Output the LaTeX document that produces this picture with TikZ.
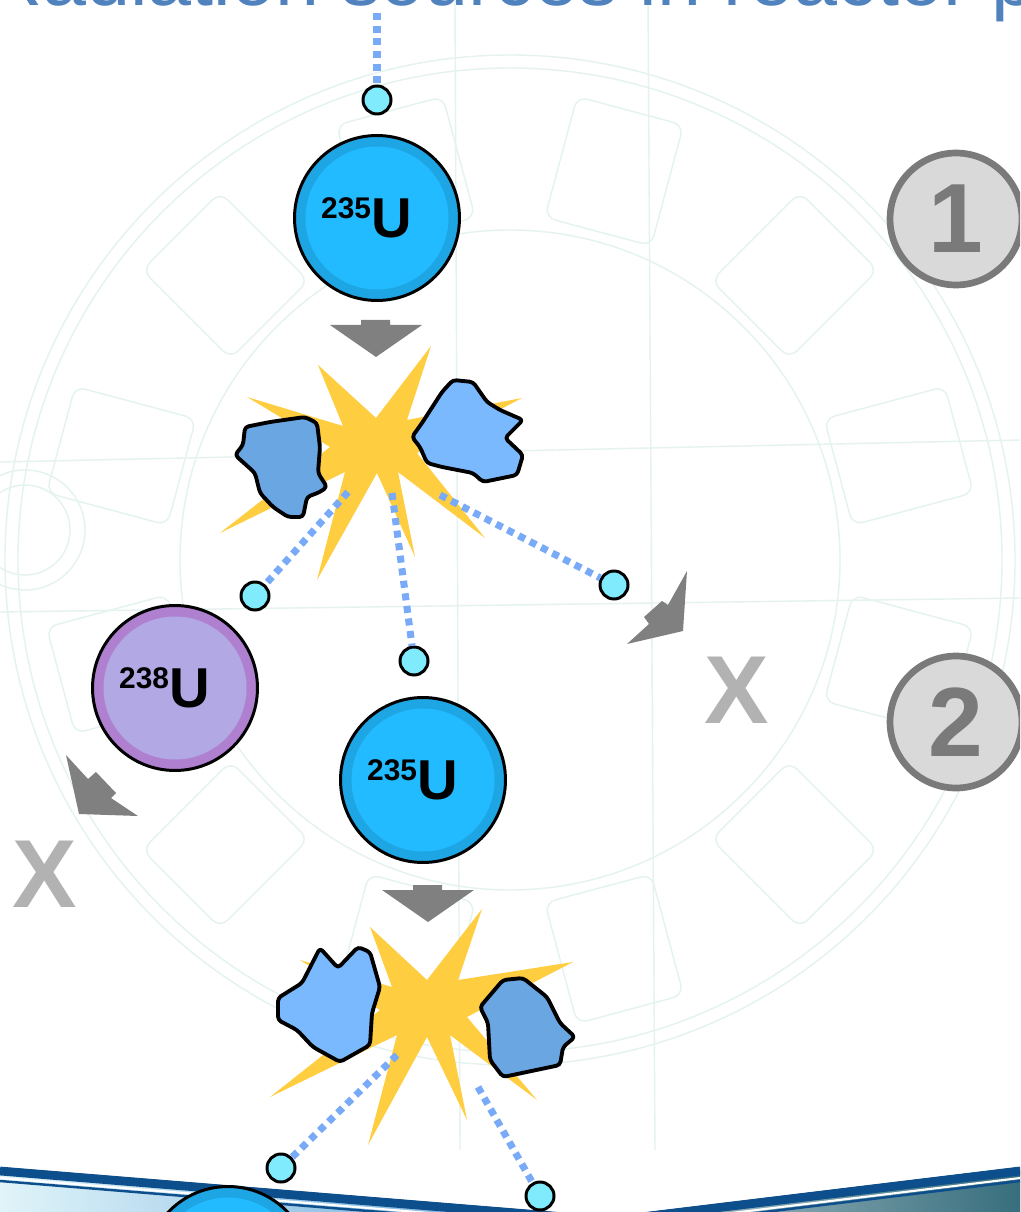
\documentclass[tikz,border=0pt]{standalone}
\usepackage{fontspec}
\setmainfont{Liberation Sans}

\definecolor{ufill}{RGB}{34,187,255}
\definecolor{uring}{RGB}{30,166,228}
\definecolor{pfill}{RGB}{177,168,228}
\definecolor{pring}{RGB}{176,128,208}
\definecolor{ncyan}{RGB}{127,235,253}
\definecolor{ndot}{RGB}{120,170,248}
\definecolor{boom}{RGB}{255,205,64}
\definecolor{chunkdark}{RGB}{106,166,226}
\definecolor{chunklight}{RGB}{122,185,253}
\definecolor{arrowgray}{RGB}{128,128,128}
\definecolor{xgray}{RGB}{178,178,178}
\definecolor{stepgray}{RGB}{217,217,217}
\definecolor{stepedge}{RGB}{122,122,122}
\definecolor{bp}{RGB}{228,242,240}
\definecolor{titleblue}{RGB}{80,130,190}
\definecolor{bannerblue}{RGB}{13,79,140}

% isotope label: mass number raised to the top of the U
\newcommand\iso[1]{\raisebox{11pt}{\fontsize{17}{17}\selectfont #1}\fontsize{32}{32}\selectfont U\kern12pt}

\begin{document}
\begin{tikzpicture}[x=0.02cm, y=-0.02cm,
    atom/.style={circle, draw, line width=1.7pt, minimum size=3.3cm, inner sep=0pt, font=\bfseries},
    u235/.style={atom, fill=uring, path picture={\fill[ufill] (path picture bounding box.center) circle (1.43cm);}},
    u238/.style={atom, fill=pring, path picture={\fill[pfill] (path picture bounding box.center) circle (1.43cm);}},
    neutron/.style={circle, draw, line width=1.7pt, fill=ncyan, minimum size=0.56cm, inner sep=0pt},
    flight/.style={ndot, line width=4pt, dash pattern=on 4pt off 3.2pt},
    blast/.style={fill=boom},
    chunk/.style={draw, line width=2.2pt, line join=round, rounded corners=2pt},
    stepmark/.style={circle, draw=stepedge, line width=3.8pt, fill=stepgray, text=stepedge,
      font=\fontsize{56}{56}\selectfont\bfseries, minimum size=2.64cm, inner sep=0pt},
    miss/.style={text=xgray, font=\fontsize{55}{55}\selectfont\bfseries, inner sep=0pt},
    drop/.pic={\fill[arrowgray] (-15,0) -- (14,0) -- (14,5) -- (46,5) -- (0,37) -- (-46,5) -- (-15,5) -- cycle;}]

  \useasboundingbox (0,0) rectangle (1020,1212);
  \clip (0,0) rectangle (1020,1212);
  \fill[white] (0,0) rectangle (1020,1212);

  % faint drawing in the background
  \begin{scope}[draw=bp, line width=0.8pt]
    \draw (510,560) circle [radius=505];
    \draw (510,560) circle [radius=492];
    \draw (510,560) circle [radius=330];
    \foreach \a in {15,45,...,345}
      \draw[rotate around={\a:(510,560)}, rounded corners=6pt] (850,505) rectangle (975,615);
    \draw (25,530) circle [radius=60];
    \draw (25,530) circle [radius=45];
    \draw (0,462) -- (1020,440);
    \draw (0,612) -- (1020,598);
    \draw (648,0) -- (655,1150);
    \draw (455,0) -- (460,1150);
  \end{scope}

  % title, mostly above the page
  \node[anchor=base west, inner sep=0pt, text=titleblue, font=\fontsize{45}{45}\selectfont]
    (title) at (-15,6) {Radiation sources in reactor physics};

  % banner at the foot
  \fill[left color={rgb,255:red,224;green,244;blue,249}, middle color={rgb,255:red,165;green,210;blue,238},
    right color={rgb,255:red,70;green,145;blue,210}] (0,1167) -- (700,1224) -- (700,1260) -- (0,1260) -- cycle;
  \draw[bannerblue, line width=5pt] (0,1171) -- (700,1228);
  \draw[white, line width=1.2pt] (0,1178) -- (700,1235);
  \draw[bannerblue, line width=1.4pt] (0,1181) -- (700,1238);
  \fill[left color={rgb,255:red,185;green,205;blue,210}, right color={rgb,255:red,55;green,110;blue,125}]
    (600,1218) -- (1020,1167) -- (1020,1260) -- (600,1260) -- cycle;
  \draw[bannerblue, line width=5pt] (600,1222) -- (1020,1171);
  \draw[white, line width=1.2pt] (600,1229) -- (1020,1178);
  \draw[bannerblue, line width=1.4pt] (600,1232) -- (1020,1181);

  % first fission
  \pic at (376,320) {drop};
  \fill[blast] (431,346) -- (407,420) -- (522,398) -- (417,453) -- (485,538) -- (398,472) -- (415,557)
    -- (377,473) -- (317,580) -- (345,472) -- (220,533) -- (330,447) -- (247,397) -- (343,426)
    -- (318,365) -- (376,418) -- cycle;
  \path[chunk, fill=chunkdark] (245,427) -- (270,422) -- (305,417) -- (317,423) -- (320,447) -- (318,473)
    -- (327,487) -- (320,492) -- (307,497) -- (303,517) -- (288,517) -- (273,507) -- (260,493)
    -- (255,473) -- (235,455) -- (243,445) -- cycle;
  \path[chunk, fill=chunklight] (412,437) -- (422,423) -- (442,392) -- (453,380) -- (473,382) -- (487,402)
    -- (500,410) -- (523,420) -- (505,438) -- (523,455) -- (517,475) -- (483,482) -- (473,473)
    -- (442,467) -- (427,463) -- (420,447) -- cycle;

  % second fission
  \pic at (428,885) {drop};
  \fill[blast] (482,909) -- (458,980) -- (573,962) -- (467,1017) -- (537,1100) -- (450,1035) -- (467,1120)
    -- (427,1037) -- (368,1145) -- (397,1035) -- (270,1097) -- (380,1010) -- (300,960) -- (392,987)
    -- (370,927) -- (427,980) -- cycle;
  \path[chunk, fill=chunklight] (278,998) -- (302,983) -- (320,948) -- (338,968) -- (358,947) -- (370,952)
    -- (380,987) -- (372,1013) -- (370,1045) -- (340,1062) -- (313,1047) -- (297,1030) -- (278,1020) -- cycle;
  \path[chunk, fill=chunkdark] (480,1007) -- (503,980) -- (523,978) -- (547,997) -- (560,1023) -- (575,1037)
    -- (563,1047) -- (560,1065) -- (503,1077) -- (490,1060) -- (488,1023) -- cycle;

  % arrows to the lost neutrons
  \fill[arrowgray] (66,755) -- (88,779) -- (96,772) -- (116,793) -- (111,798) -- (138,816) -- (79,814) -- cycle;
  \fill[arrowgray] (687,571) -- (683,631) -- (627,644) -- (649,624) -- (644,617) -- (662,601) -- (668,605) -- cycle;

  % nuclei
  \node[u235] (u1) at (377,218) {\iso{235}};
  \node[u238] (u8) at (175,688) {\iso{238}};
  \node[u235] (u2) at (423,780) {\iso{235}};
  \node[u235] (u3) at (228,1269) {};

  % neutrons
  \node[neutron] (n0) at (377,100) {};
  \node[neutron] (n1l) at (255,596) {};
  \node[neutron] (n1m) at (414,661) {};
  \node[neutron] (n1r) at (614,585) {};
  \node[neutron] (n2l) at (281,1168) {};
  \node[neutron] (n2r) at (540,1196) {};

  \coordinate (src) at (377,13);
  \coordinate (f1l) at (348,492);
  \coordinate (f1m) at (392,493);
  \coordinate (f1r) at (440,495);
  \coordinate (f2l) at (397,1055);
  \coordinate (f2r) at (478,1087);

  \draw[flight] (src) -- (n0);
  \draw[flight] (f1l) -- (n1l);
  \draw[flight] (f1m) -- (n1m);
  \draw[flight] (f1r) -- (n1r);
  \draw[flight] (f2l) -- (n2l);
  \draw[flight] (f2r) -- (n2r);

  % step numbers and misses
  \node[stepmark] (s1) at (956,219) {1};
  \node[stepmark] (s2) at (956,722) {2};
  \node[miss] (x1) at (737,690) {X};
  \node[miss] (x2) at (45,874) {X};
\end{tikzpicture}
\end{document}
